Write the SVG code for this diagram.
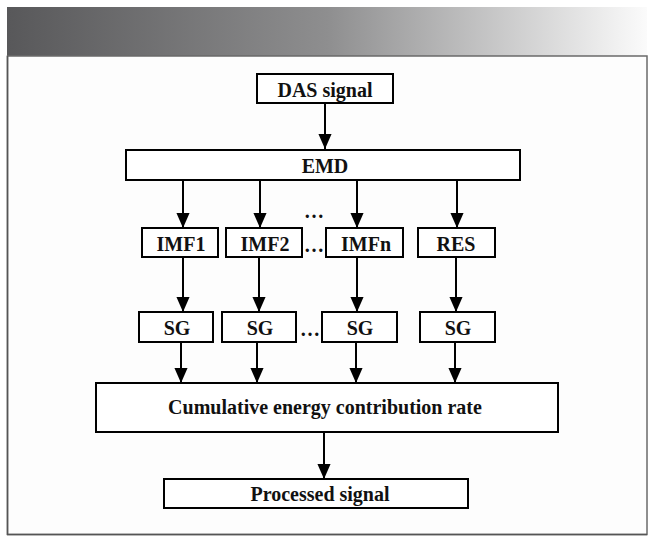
<svg xmlns="http://www.w3.org/2000/svg" width="658" height="546" viewBox="0 0 658 546">
  <defs>
    <linearGradient id="hdr" x1="0" y1="0" x2="1" y2="0">
      <stop offset="0" stop-color="#58585a"/>
      <stop offset="0.5" stop-color="#8e8e8f"/>
      <stop offset="1" stop-color="#fbfbfb"/>
    </linearGradient>
    <marker id="arr" markerUnits="userSpaceOnUse" markerWidth="16" markerHeight="17" refX="8" refY="16" orient="auto-start-reverse" viewBox="0 0 16 17">
      <path d="M1,0 L15,0 L8,16 Z" fill="#000" transform="rotate(0)"/>
    </marker>
    <marker id="arrd" markerUnits="userSpaceOnUse" markerWidth="16" markerHeight="17" refX="16" refY="8" orient="auto" viewBox="0 0 17 16">
      <path d="M0,1 L16,8 L0,15 Z" fill="#000"/>
    </marker>
  </defs>
  <style>
    .box { fill: #fff; stroke: #000; stroke-width: 2; }
    .lbl { font-family: "Liberation Serif", "Times New Roman", serif; font-weight: bold; font-size: 20px; fill: #111; text-anchor: middle; }
    .con { stroke: #000; stroke-width: 2; fill: none; marker-end: url(#arrd); }
  </style>
  <rect x="0" y="0" width="658" height="546" fill="#fff"/>
  <rect x="7" y="7" width="640" height="49" fill="url(#hdr)"/>
  <rect x="7.5" y="56" width="639.5" height="478.5" fill="#fdfdfd" stroke="#6a6a6a" stroke-width="1.5"/>
  <line x1="7.5" y1="56" x2="7.5" y2="535" stroke="#555" stroke-width="1.5"/>
  <line x1="7" y1="534.5" x2="647" y2="534.5" stroke="#555" stroke-width="1.5"/>

  <g id="connectors">
    <line class="con" x1="325" y1="103" x2="325" y2="149"/>
    <line class="con" x1="183" y1="180" x2="183" y2="228"/>
    <line class="con" x1="260" y1="180" x2="260" y2="228"/>
    <line class="con" x1="357" y1="180" x2="357" y2="228"/>
    <line class="con" x1="457" y1="180" x2="457" y2="228"/>
    <line class="con" x1="183" y1="257" x2="183" y2="312"/>
    <line class="con" x1="259" y1="257" x2="259" y2="312"/>
    <line class="con" x1="357" y1="257" x2="357" y2="312"/>
    <line class="con" x1="456" y1="257" x2="456" y2="312"/>
    <line class="con" x1="181" y1="342" x2="181" y2="383"/>
    <line class="con" x1="257" y1="342" x2="257" y2="383"/>
    <line class="con" x1="356" y1="342" x2="356" y2="383"/>
    <line class="con" x1="455" y1="342" x2="455" y2="383"/>
    <line class="con" x1="324" y1="432" x2="324" y2="479"/>
  </g>

  <g id="das">
    <rect class="box" x="257" y="74" width="136" height="29"/>
    <text class="lbl" x="325" y="96.5">DAS signal</text>
  </g>
  <g id="emd">
    <rect class="box" x="126" y="150" width="394" height="30"/>
    <text class="lbl" x="325" y="173">EMD</text>
  </g>
  <g id="imf1">
    <rect class="box" x="142" y="228" width="76" height="29"/>
    <text class="lbl" x="181" y="250.5">IMF1</text>
  </g>
  <g id="imf2">
    <rect class="box" x="226" y="228" width="76" height="29"/>
    <text class="lbl" x="265" y="250.5">IMF2</text>
  </g>
  <g id="imfn">
    <rect class="box" x="326" y="228" width="77" height="29"/>
    <text class="lbl" x="366" y="250.5">IMFn</text>
  </g>
  <g id="res">
    <rect class="box" x="418" y="228" width="77" height="29"/>
    <text class="lbl" x="456" y="250.5">RES</text>
  </g>
  <g id="sg1">
    <rect class="box" x="139" y="312" width="74" height="30"/>
    <text class="lbl" x="177" y="335">SG</text>
  </g>
  <g id="sg2">
    <rect class="box" x="222" y="312" width="74" height="30"/>
    <text class="lbl" x="260" y="335">SG</text>
  </g>
  <g id="sg3">
    <rect class="box" x="322" y="312" width="75" height="30"/>
    <text class="lbl" x="360" y="335">SG</text>
  </g>
  <g id="sg4">
    <rect class="box" x="420" y="312" width="75" height="30"/>
    <text class="lbl" x="458" y="335">SG</text>
  </g>
  <g id="cumulative">
    <rect class="box" x="96" y="383" width="462" height="49"/>
    <text class="lbl" x="325" y="414">Cumulative energy contribution rate</text>
  </g>
  <g id="processed">
    <rect class="box" x="164" y="479" width="304" height="29"/>
    <text class="lbl" x="320" y="500.5">Processed signal</text>
  </g>
  <g id="ellipses">
    <text class="lbl" x="314" y="218">…</text>
    <text class="lbl" x="314" y="252">…</text>
    <text class="lbl" x="310" y="336">…</text>
  </g>
</svg>
